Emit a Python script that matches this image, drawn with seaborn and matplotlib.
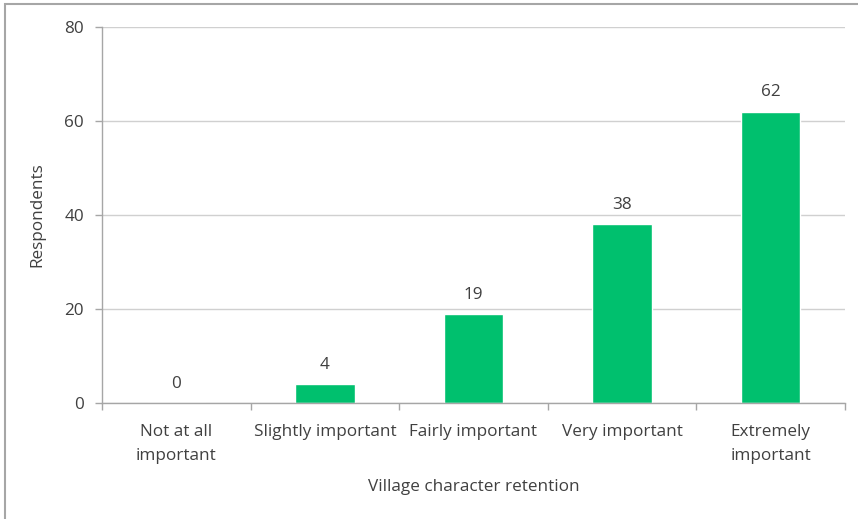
import matplotlib
matplotlib.use("Agg")
import matplotlib.pyplot as plt
import seaborn as sns
import pandas as pd
from matplotlib.patches import Rectangle

categories = ["Not at all\nimportant", "Slightly important", "Fairly important",
              "Very important", "Extremely\nimportant"]
respondents = [0, 4, 19, 38, 62]
y_ticks = [0, 20, 40, 60, 80]

df = pd.DataFrame({"category": categories, "respondents": respondents})

sns.set_theme(style="white")
plt.rcParams["font.family"] = ["Open Sans", "DejaVu Sans"]
text_color = "#404040"
fs = 12.3

fig = plt.figure(figsize=(8.58, 5.19), dpi=100)
ax = fig.add_axes([0.1189, 0.2235, 0.8659, 0.7245])

sns.barplot(data=df, x="category", y="respondents", color="#00C06E",
            saturation=1, width=0.4, ax=ax)

ax.set_ylim(0, 80)
ax.set_xlim(-0.5, len(categories) - 0.5)
ax.set_yticks(y_ticks)
ax.yaxis.grid(True, color="#d0d0d0", linewidth=1)
ax.set_axisbelow(True)

for side in ("top", "right"):
    ax.spines[side].set_visible(False)
for side in ("left", "bottom"):
    ax.spines[side].set_color("#a6a6a6")
    ax.spines[side].set_linewidth(1)

# category boundary ticks on the x axis
ax.set_xticks([i - 0.5 for i in range(len(categories) + 1)], minor=True)
ax.tick_params(axis="x", which="major", length=0, pad=15, labelsize=fs,
               labelcolor=text_color)
ax.tick_params(axis="x", which="minor", length=5, width=1, color="#a6a6a6",
               direction="out", bottom=True)
ax.tick_params(axis="y", which="major", length=5, width=1, color="#a6a6a6",
               direction="out", left=True, pad=8, labelsize=fs,
               labelcolor=text_color)
for lbl in ax.get_xticklabels():
    lbl.set_linespacing(1.68)

ax.set_xlabel("Village character retention", fontsize=fs, color=text_color,
              labelpad=11)
ax.set_ylabel("Respondents", fontsize=fs, color=text_color, labelpad=14)

for i, v in enumerate(respondents):
    ax.annotate(str(v), xy=(i, v), xytext=(0, 8), textcoords="offset points",
                ha="center", va="bottom", fontsize=fs, color=text_color)

# outer frame of the chart area
fig.patches.append(Rectangle((5 / 858, -0.1), 1.2, 1 - 4 / 519 + 0.1,
                             transform=fig.transFigure, fill=False,
                             edgecolor="#a6a6a6", linewidth=1.5))

fig.savefig("out.png", dpi=100)
